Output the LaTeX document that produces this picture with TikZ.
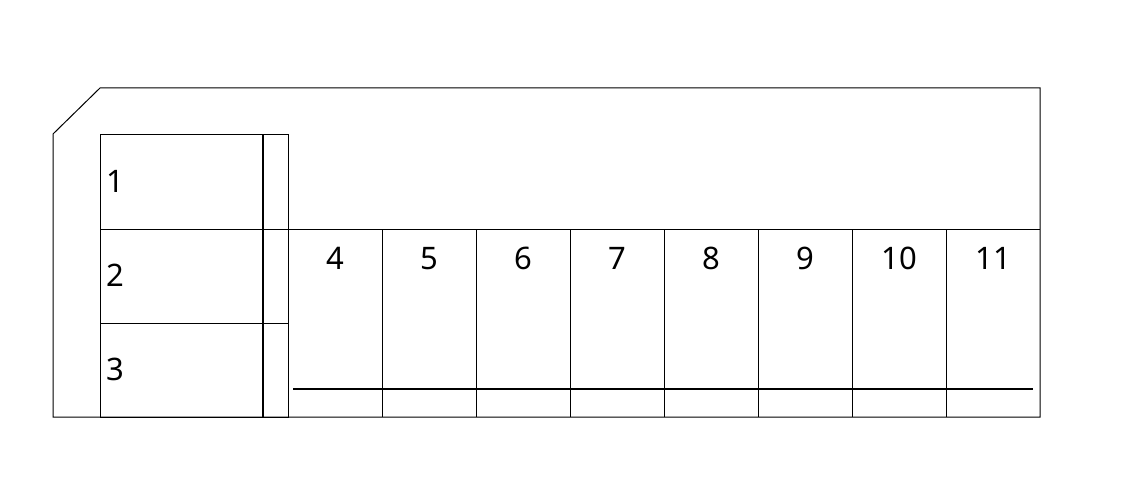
\documentclass[tikz,border=0pt]{standalone}
\usepackage{fontspec}
\setmainfont{Noto Sans}
\begin{document}
\begin{tikzpicture}[x=1pt,y=-1pt,
  thin line/.style={line width=1pt},
  thick line/.style={line width=2.4pt},
  lbl/.style={font=\fontsize{31}{31}\selectfont, inner sep=0pt, text height=0.72em, text depth=0pt}]
\useasboundingbox (0,0) rectangle (1130,484);
\fill[white] (0,0) rectangle (1130,484);
% outer outline
\draw[thin line] (53,134) -- (100,88) -- (1040,88) -- (1040,417) -- (53,417) -- cycle;
% left block
\draw[thin line] (100,135) rectangle (288,417);
\draw[thin line] (100,229) -- (1040,229);
\draw[thin line] (100,323) -- (288,323);
\draw[thick line] (263,135) -- (263,417);
% columns
\foreach \x in {382,476,570,664,758,852,946}
  \draw[thin line] (\x,229) -- (\x,417);
\draw[thick line] (293,389) -- (1033,389);
% labels
\node[lbl, anchor=west] (n1) at (106,189) {1};
\node[lbl, anchor=west] (n2) at (106,283) {2};
\node[lbl, anchor=west] (n3) at (106,377) {3};
\foreach \n [count=\i from 0] in {4,5,6,7,8,9,10,11}
  \node[lbl] (c\n) at ({335+94*\i},266) {\n};
\end{tikzpicture}
\end{document}
